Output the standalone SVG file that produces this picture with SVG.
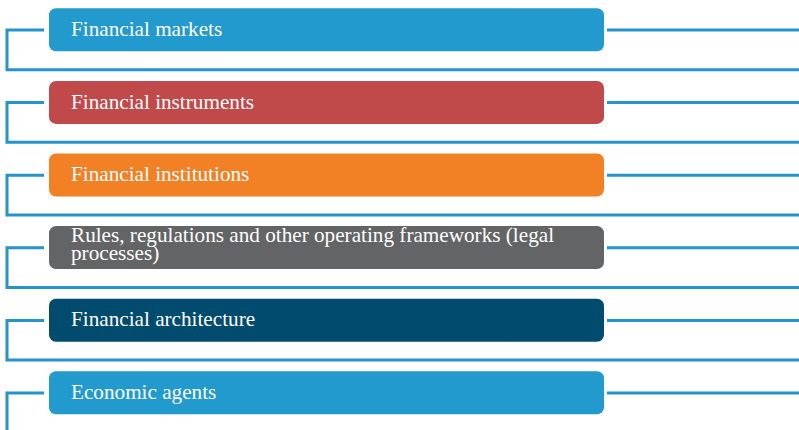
<svg xmlns="http://www.w3.org/2000/svg" width="799" height="430" viewBox="0 0 799 430">
<style>
.ln{fill:none;stroke:#2593CC;stroke-width:3}
.box{rx:7;ry:7}
.t{font-family:"Liberation Serif","Times New Roman",serif;font-size:21.2px;fill:#ffffff}
</style>
<rect width="799" height="430" fill="#ffffff"/>
<g id="connectors">
<path class="ln" d="M44 30H7V69.7H799M607 30H799"/>
<path class="ln" d="M44 102.6H7V142.3H799M607 102.6H799"/>
<path class="ln" d="M44 175.2H7V214.9H799M607 175.2H799"/>
<path class="ln" d="M44 247.8H7V287.5H799M607 247.8H799"/>
<path class="ln" d="M44 320.4H7V360.1H799M607 320.4H799"/>
<path class="ln" d="M44 393H7V430M607 393H799"/>
</g>
<g id="n1"><rect class="box" x="49" y="8.3" width="555" height="43" fill="#229ACD"/><text class="t" x="71" y="36">Financial markets</text></g>
<g id="n2"><rect class="box" x="49" y="80.9" width="555" height="43" fill="#C0494A"/><text class="t" x="71" y="108.6">Financial instruments</text></g>
<g id="n3"><rect class="box" x="49" y="153.5" width="555" height="43" fill="#F28025"/><text class="t" x="71" y="181.2">Financial institutions</text></g>
<g id="n4"><rect class="box" x="49" y="226.1" width="555" height="43" fill="#636466"/><text class="t" x="71" y="241.5"><tspan x="71">Rules, regulations and other operating frameworks (legal</tspan><tspan x="71" dy="18">processes)</tspan></text></g>
<g id="n5"><rect class="box" x="49" y="298.7" width="555" height="43" fill="#004B6E"/><text class="t" x="71" y="326.4">Financial architecture</text></g>
<g id="n6"><rect class="box" x="49" y="371.3" width="555" height="43" fill="#229ACD"/><text class="t" x="71" y="399">Economic agents</text></g>
</svg>
